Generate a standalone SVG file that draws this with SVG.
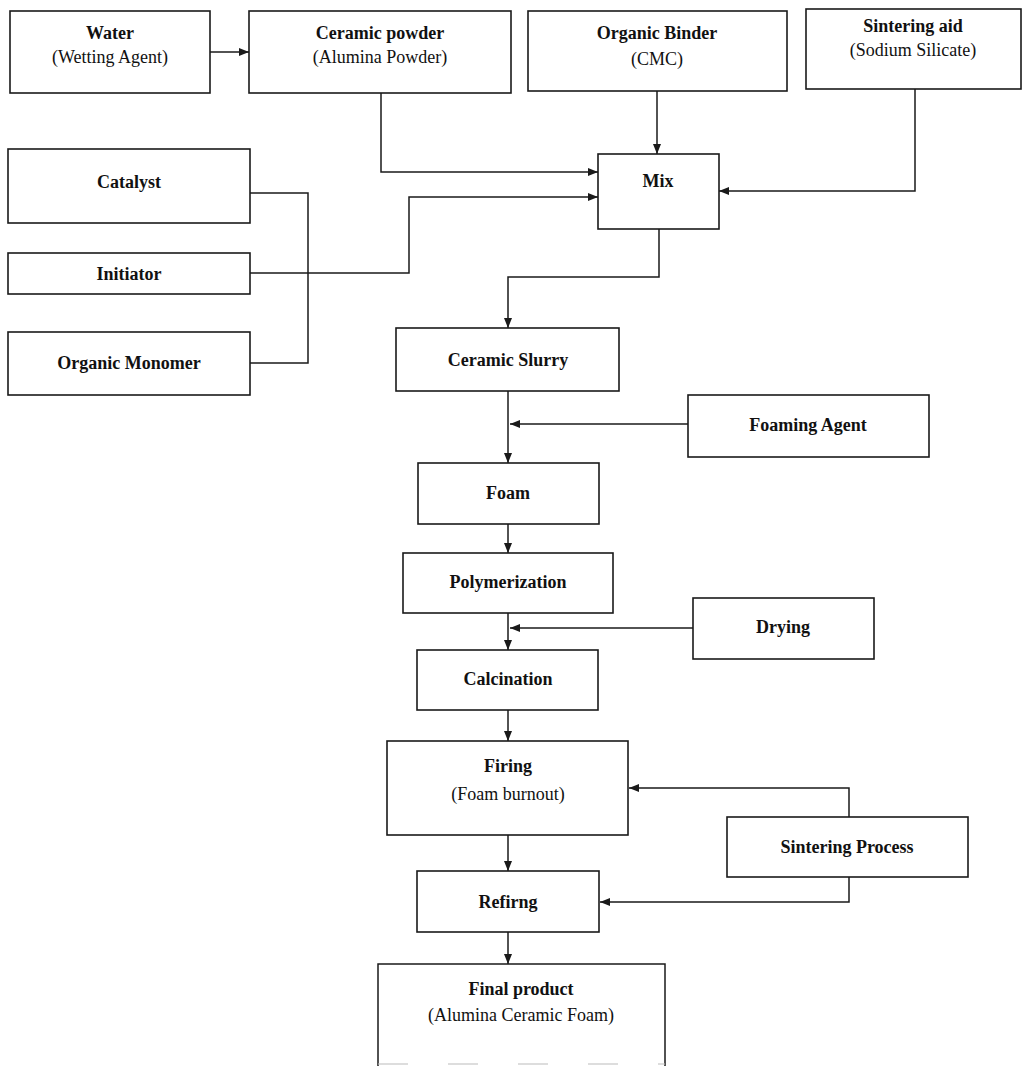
<svg xmlns="http://www.w3.org/2000/svg" width="1029" height="1066" viewBox="0 0 1029 1066">
<defs>
<marker id="ah" viewBox="0 0 10 8" refX="10" refY="4" markerWidth="10" markerHeight="8" markerUnits="userSpaceOnUse" orient="auto">
<path d="M0,0 L10,4 L0,8 z" fill="#1a1a1a"/>
</marker>
</defs>
<style>
.box{fill:#fff;stroke:#1a1a1a;stroke-width:1.6}
.t{font-family:"Liberation Serif","Times New Roman",serif;font-size:18px;font-weight:bold;fill:#111;text-anchor:middle}
.s{font-family:"Liberation Serif","Times New Roman",serif;font-size:18px;fill:#111;text-anchor:middle}
.c{fill:none;stroke:#1a1a1a;stroke-width:1.5}
.a{marker-end:url(#ah)}
</style>
<rect width="1029" height="1066" fill="#fff"/>
<g id="connectors">
<path class="c a" d="M210,52 H249"/>
<path class="c a" d="M381,93 V172 H598"/>
<path class="c a" d="M657,91 V154"/>
<path class="c a" d="M915,89 V191 H719"/>
<path class="c" d="M250,193 H308 V363 H250"/>
<path class="c a" d="M250,273 H409 V197 H598"/>
<path class="c a" d="M659,229 V277 H508 V328"/>
<path class="c a" d="M508,391 V463"/>
<path class="c a" d="M688,424 H510"/>
<path class="c a" d="M508,524 V553"/>
<path class="c a" d="M508,613 V650"/>
<path class="c a" d="M693,628 H510"/>
<path class="c a" d="M508,710 V741"/>
<path class="c a" d="M849,817 V788 H629"/>
<path class="c a" d="M508,835 V871"/>
<path class="c a" d="M849,877 V902 H600"/>
<path class="c a" d="M508,932 V964"/>
</g>
<g id="water"><rect class="box" x="10" y="11" width="200" height="82"/><text class="t" x="110" y="39">Water</text><text class="s" x="110" y="63">(Wetting Agent)</text></g>
<g id="ceramic-powder"><rect class="box" x="249" y="11" width="262" height="82"/><text class="t" x="380" y="39">Ceramic powder</text><text class="s" x="380" y="63">(Alumina Powder)</text></g>
<g id="organic-binder"><rect class="box" x="528" y="11" width="259" height="80"/><text class="t" x="657" y="39">Organic Binder</text><text class="s" x="657" y="65">(CMC)</text></g>
<g id="sintering-aid"><rect class="box" x="806" y="9" width="215" height="80"/><text class="t" x="913" y="32">Sintering aid</text><text class="s" x="913" y="56">(Sodium Silicate)</text></g>
<g id="mix"><rect class="box" x="598" y="154" width="121" height="75"/><text class="t" x="658" y="187">Mix</text></g>
<g id="catalyst"><rect class="box" x="8" y="149" width="242" height="74"/><text class="t" x="129" y="188">Catalyst</text></g>
<g id="initiator"><rect class="box" x="8" y="253" width="242" height="41"/><text class="t" x="129" y="280">Initiator</text></g>
<g id="organic-monomer"><rect class="box" x="8" y="332" width="242" height="63"/><text class="t" x="129" y="369">Organic Monomer</text></g>
<g id="ceramic-slurry"><rect class="box" x="396" y="328" width="223" height="63"/><text class="t" x="508" y="366">Ceramic Slurry</text></g>
<g id="foaming-agent"><rect class="box" x="688" y="395" width="241" height="62"/><text class="t" x="808" y="431">Foaming Agent</text></g>
<g id="foam"><rect class="box" x="418" y="463" width="181" height="61"/><text class="t" x="508" y="499">Foam</text></g>
<g id="polymerization"><rect class="box" x="403" y="553" width="210" height="60"/><text class="t" x="508" y="588">Polymerization</text></g>
<g id="drying"><rect class="box" x="693" y="598" width="181" height="61"/><text class="t" x="783" y="633">Drying</text></g>
<g id="calcination"><rect class="box" x="417" y="650" width="181" height="60"/><text class="t" x="508" y="685">Calcination</text></g>
<g id="firing"><rect class="box" x="387" y="741" width="241" height="94"/><text class="t" x="508" y="772">Firing</text><text class="s" x="508" y="800">(Foam burnout)</text></g>
<g id="sintering-process"><rect class="box" x="727" y="817" width="241" height="60"/><text class="t" x="847" y="853">Sintering Process</text></g>
<g id="refirng"><rect class="box" x="417" y="871" width="182" height="61"/><text class="t" x="508" y="908">Refirng</text></g>
<g id="final-product"><path class="c" d="M378,1066 V964 H665 V1066"/><path d="M378,1064 H665" fill="none" stroke="#bbb" stroke-width="1" stroke-dasharray="30,40"/><text class="t" x="521" y="995">Final product</text><text class="s" x="521" y="1021">(Alumina Ceramic Foam)</text></g>
</svg>
